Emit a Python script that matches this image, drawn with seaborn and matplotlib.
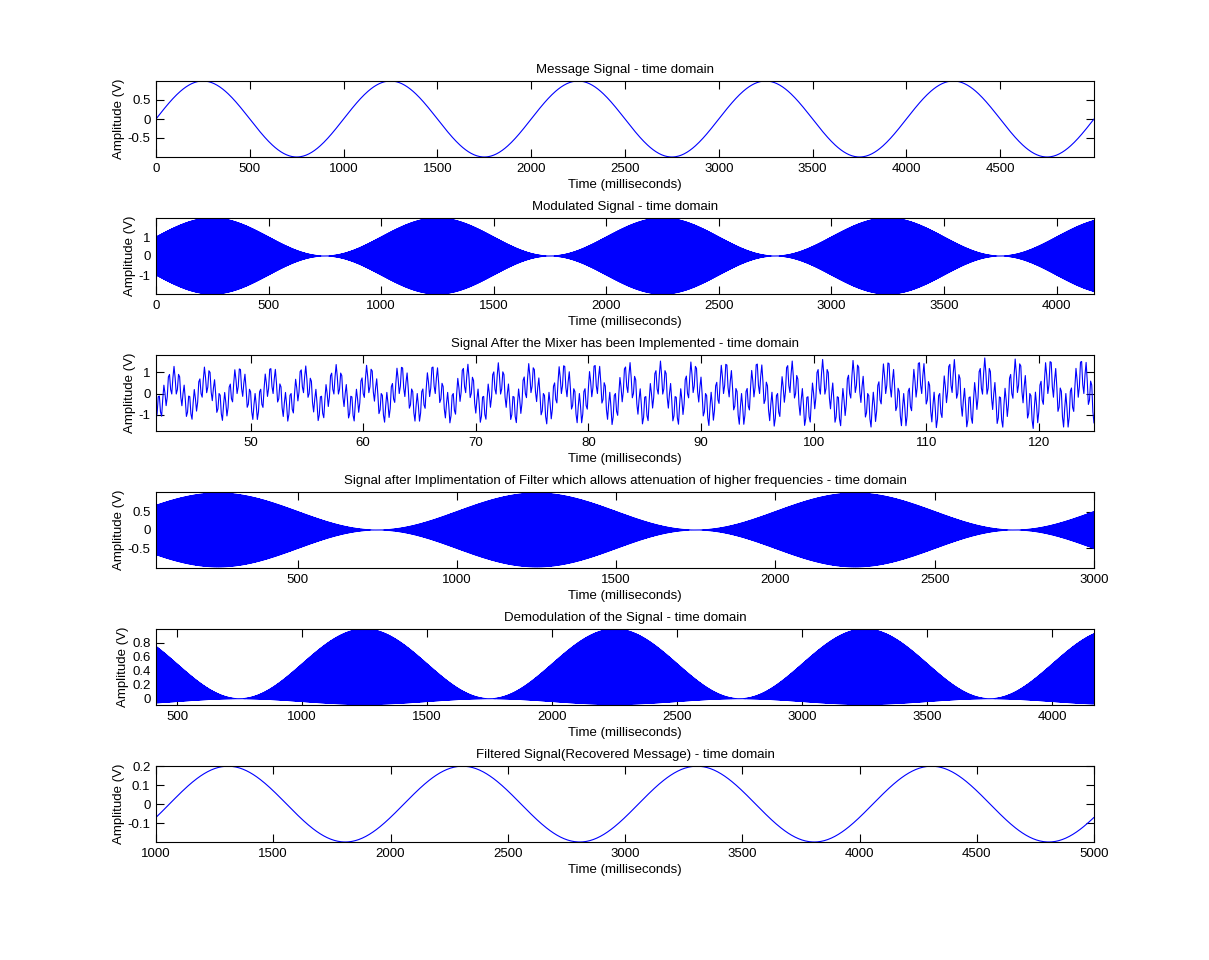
import numpy as np
import pandas as pd
import matplotlib
matplotlib.use("Agg")
import matplotlib.pyplot as plt
import seaborn as sns

# Панели (сверху вниз)
titles = [
    "Message Signal - time domain",
    "Modulated Signal - time domain",
    "Signal After the Mixer has been Implemented - time domain",
    "Signal after Implimentation of Filter which allows attenuation of higher frequencies - time domain",
    "Demodulation of the Signal - time domain",
    "Filtered Signal(Recovered Message) - time domain",
]
xlims = [(0, 5000), (0, 4166), (41.6, 124.9), (55, 3000), (416, 4166), (1000, 5000)]
ylims = [(-1, 1), (-2, 2), (-1.75, 1.8), (-1.03, 1.03), (-0.09, 1.0), (-0.2, 0.201)]
xticks = [
    list(range(0, 5000, 500)),
    list(range(0, 4001, 500)),
    list(range(50, 121, 10)),
    list(range(500, 3001, 500)),
    list(range(500, 4001, 500)),
    list(range(1000, 5001, 500)),
]
yticks = [
    [-0.5, 0, 0.5],
    [-1, 0, 1],
    [-1, 0, 1],
    [-0.5, 0, 0.5],
    [0, 0.2, 0.4, 0.6, 0.8],
    [-0.1, 0, 0.1, 0.2],
]

# Параметры сигналов
msg_period_ms = 1000.0      # период сообщения
carrier_period_ms = 2.0     # несущая (на графике сливается в сплошную заливку)
mix_periods_ms = [2.88, 0.45]  # медленная и быстрая составляющие после смесителя
demod_coef = [0.46, 0.54]   # постоянная и переменная части после демодуляции
rec_amp = 0.2               # амплитуда восстановленного сообщения
rec_peak_ms = 1307.0        # положение первого максимума
sample_step = [5.0, 0.25, 0.1, 0.25, 0.25, 5.0]


def message(t):
    return np.sin(2 * np.pi * t / msg_period_ms)


def carrier(t):
    return np.cos(2 * np.pi * t / carrier_period_ms)


signals = []
for k in range(6):
    t = np.arange(xlims[k][0], xlims[k][1] + sample_step[k], sample_step[k])
    if k == 0:
        y = message(t)
    elif k == 1:
        y = (1 + message(t)) * carrier(t)
    elif k == 2:
        y = (1 + message(t)) * 0.5 * (np.cos(2 * np.pi * t / mix_periods_ms[0])
                                      + np.cos(2 * np.pi * t / mix_periods_ms[1]))
    elif k == 3:
        y = 0.5 * (1 + message(t)) * carrier(t)
    elif k == 4:
        y = 0.5 * (1 + message(t)) * (demod_coef[0] + demod_coef[1] * carrier(t))
    else:
        y = rec_amp * np.sin(2 * np.pi * (t - rec_peak_ms + 250) / msg_period_ms)
    signals.append(pd.DataFrame({"t": t, "y": y}))

sns.set_style("ticks", {"axes.edgecolor": "black", "text.color": "black",
                        "axes.labelcolor": "black", "xtick.color": "black",
                        "ytick.color": "black"})
plt.rcParams['font.family'] = ['Liberation Sans', 'DejaVu Sans']
plt.rcParams['font.size'] = 9.5

fig = plt.figure(figsize=(12.09, 9.6), dpi=100)
W, H = 1209, 960
left, width = 156 / W, 938 / W
for k in range(6):
    top_px = 81 + 137 * k
    ax = fig.add_axes([left, 1 - (top_px + 76) / H, width, 76 / H])
    sns.lineplot(data=signals[k], x="t", y="y", ax=ax, color=(0, 0, 1),
                 linewidth=0.8, estimator=None, sort=False)
    ax.set_xlim(*xlims[k])
    ax.set_ylim(*ylims[k])
    ax.set_xticks(xticks[k])
    ax.set_yticks(yticks[k])
    ax.set_yticklabels([f"{v:g}" for v in yticks[k]])
    ax.tick_params(direction="in", top=True, right=True, length=6, width=0.8,
                   labelsize=9.5, pad=4, colors="black")
    for s in ax.spines.values():
        s.set_visible(True)
        s.set_linewidth(0.8)
        s.set_color("black")
    ax.set_title(titles[k], fontsize=9.5, pad=6, color="black")
    ax.set_xlabel("Time (milliseconds)", fontsize=9.5, labelpad=3, color="black")
    ax.set_ylabel("Amplitude (V)", fontsize=9.5, labelpad=2, color="black")

fig.savefig("out.png", dpi=100, facecolor="white")
